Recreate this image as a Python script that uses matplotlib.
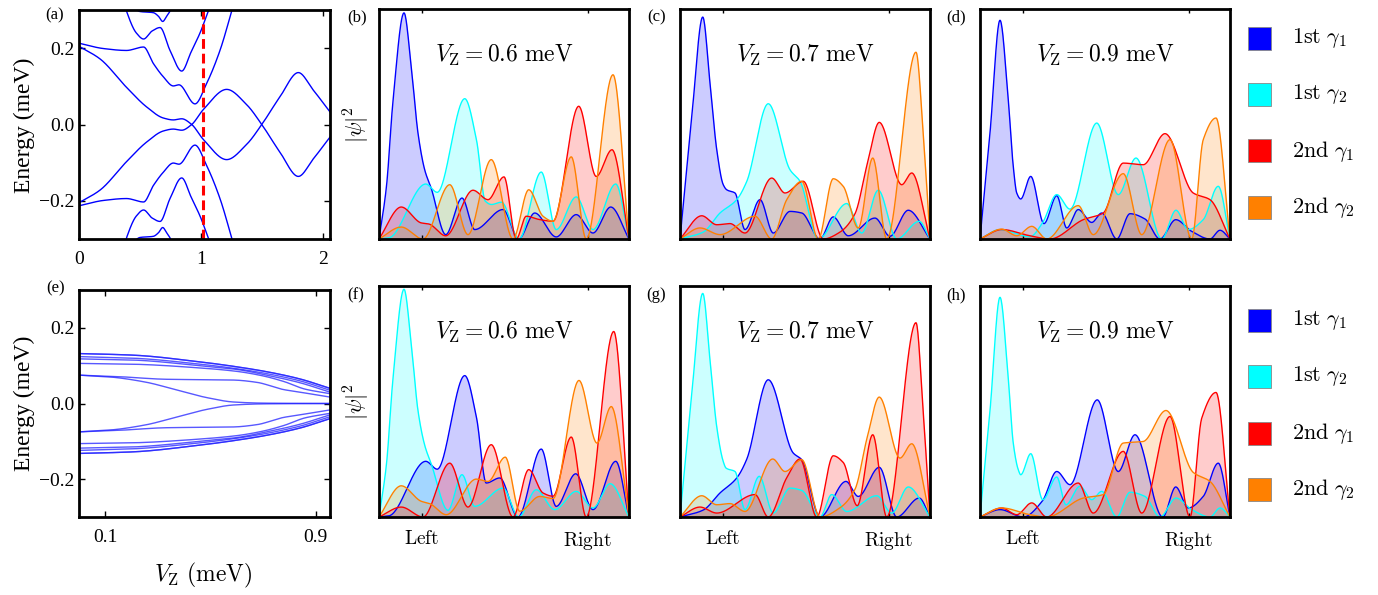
import numpy as np
import matplotlib
matplotlib.use("Agg")
import matplotlib.pyplot as plt
from matplotlib.patches import Rectangle

plt.rcParams['font.family'] = 'serif'
plt.rcParams['font.serif'] = ['Liberation Serif', 'DejaVu Serif']
plt.rcParams['mathtext.fontset'] = 'cm'

# ---- energy spectrum, clean wire (a): positive branches, (V_Z, E) ----
band_a1 = [(0, 0.205), (0.172, 0.172), (0.391, 0.097), (0.555, 0.046), (0.692, 0.017),
           (0.774, 0.012), (0.843, 0.015), (0.925, 0.0), (1.02, -0.039), (1.212, -0.092),
           (1.376, -0.052), (1.5, 0.0), (1.65, 0.073), (1.8, 0.136), (1.923, 0.09), (2.06, 0.033)]
band_a2 = [(0, 0.213), (0.2, 0.199), (0.39, 0.194), (0.53, 0.203), (0.61, 0.16), (0.692, 0.125),
           (0.774, 0.101), (0.82, 0.104), (0.952, 0.054), (1.048, 0.108), (1.157, 0.194),
           (1.253, 0.297), (1.3, 0.35)]
band_a3 = [(0.36, 0.33), (0.39, 0.297), (0.47, 0.24), (0.53, 0.224), (0.6, 0.245), (0.665, 0.254),
           (0.747, 0.194), (0.843, 0.14), (0.92, 0.19), (1.0, 0.245), (1.06, 0.297), (1.1, 0.33)]
band_a4 = [(0.44, 0.31), (0.5, 0.296), (0.61, 0.293), (0.651, 0.284), (0.687, 0.27),
           (0.72, 0.284), (0.747, 0.297), (0.78, 0.32)]
vz_cut = 1.02

# ---- energy spectrum, disordered wire (e): positive branches ----
band_e1 = [(0, 0.132), (0.2, 0.128), (0.46, 0.110), (0.6, 0.097), (0.714, 0.084), (0.84, 0.065), (0.955, 0.040)]
band_e2 = [(0, 0.124), (0.2, 0.120), (0.46, 0.104), (0.6, 0.092), (0.714, 0.079), (0.84, 0.060), (0.955, 0.035)]
band_e3 = [(0, 0.118), (0.2, 0.115), (0.46, 0.100), (0.6, 0.090), (0.714, 0.075), (0.84, 0.055), (0.955, 0.030)]
band_e4 = [(0, 0.106), (0.2, 0.104), (0.46, 0.094), (0.6, 0.085), (0.7, 0.073), (0.78, 0.058), (0.86, 0.038), (0.955, 0.026)]
band_e5 = [(0, 0.075), (0.15, 0.071), (0.333, 0.064), (0.587, 0.062), (0.676, 0.056), (0.777, 0.037), (0.84, 0.030), (0.955, 0.017)]
band_e6 = [(0, 0.075), (0.12, 0.070), (0.25, 0.057), (0.376, 0.035), (0.49, 0.015), (0.587, 0.004), (0.7, 0.001), (0.955, 0.0)]

# ---- |psi|^2 along the wire (position 0..1, relative weight) ----
b_blue = [(0, 0), (0.03, 0.23), (0.056, 0.6), (0.10, 0.983), (0.129, 0.75), (0.156, 0.46), (0.183, 0.30),
          (0.209, 0.22), (0.267, 0.019), (0.332, 0.178), (0.383, 0.041), (0.496, 0.128), (0.559, 0),
          (0.623, 0.113), (0.709, 0.009), (0.789, 0.106), (0.856, 0.026), (0.927, 0.139), (1.0, 0)]
b_cyan = [(0, 0), (0.04, 0.005), (0.187, 0.239), (0.233, 0.203), (0.343, 0.61), (0.39, 0.43),
          (0.425, 0.165), (0.45, 0.15), (0.49, 0.16), (0.56, 0), (0.649, 0.291), (0.709, 0.041),
          (0.789, 0.183), (0.856, 0.041), (0.947, 0.239), (1.0, 0)]
b_red = [(0, 0), (0.089, 0.139), (0.169, 0.07), (0.2, 0.065), (0.267, 0.014), (0.376, 0.212),
         (0.436, 0.171), (0.5, 0.27), (0.549, 0.0), (0.589, 0.099), (0.64, 0.085), (0.696, 0.077),
         (0.799, 0.577), (0.869, 0.272), (0.932, 0.388), (1.0, 0)]
b_orange = [(0, 0), (0.089, 0.052), (0.176, 0.0), (0.283, 0.236), (0.356, 0.019), (0.449, 0.345),
            (0.536, 0.0), (0.599, 0.214), (0.656, 0.099), (0.696, 0.077), (0.769, 0.357), (0.829, 0.0),
            (0.936, 0.714), (1.0, 0)]

c_blue = [(0, 0), (0.047, 0.53), (0.091, 0.965), (0.12, 0.678), (0.147, 0.388), (0.173, 0.236),
          (0.187, 0.214), (0.22, 0.2), (0.26, 0.041), (0.32, 0.171), (0.373, 0.026), (0.44, 0.12),
          (0.487, 0.113), (0.56, 0), (0.613, 0.096), (0.673, 0.014), (0.78, 0.091), (0.84, 0.012),
          (0.913, 0.125), (1.0, 0)]
c_cyan = [(0, 0), (0.093, 0.03), (0.16, 0.113), (0.227, 0.171), (0.267, 0.25), (0.353, 0.588),
          (0.44, 0.301), (0.48, 0.251), (0.553, 0), (0.667, 0.154), (0.727, 0.026), (0.793, 0.212),
          (0.867, 0), (0.957, 0.077), (1.0, 0)]
c_red = [(0, 0), (0.087, 0.101), (0.147, 0.062), (0.2, 0.067), (0.26, 0.026), (0.367, 0.265),
         (0.42, 0.2), (0.493, 0.251), (0.573, 0), (0.64, 0.03), (0.7, 0.11), (0.75, 0.33),
         (0.797, 0.507), (0.887, 0.236), (0.927, 0.287), (1.0, 0)]
c_orange = [(0, 0), (0.08, 0.048), (0.16, 0.019), (0.3, 0.099), (0.367, 0), (0.427, 0.171),
            (0.487, 0.251), (0.553, 0), (0.613, 0.262), (0.653, 0.229), (0.713, 0.048), (0.771, 0.352),
            (0.827, 0), (0.944, 0.812), (0.973, 0.46), (1.0, 0)]

d_blue = [(0, 0), (0.04, 0.461), (0.08, 0.951), (0.113, 0.606), (0.133, 0.316), (0.147, 0.2),
          (0.163, 0.174), (0.203, 0.272), (0.256, 0.067), (0.307, 0.188), (0.347, 0.048), (0.393, 0.128),
          (0.447, 0.072), (0.487, 0.113), (0.547, 0), (0.6, 0.11), (0.66, 0.087), (0.72, 0),
          (0.783, 0.084), (0.847, 0.033), (0.92, 0.0), (0.96, 0.038), (1.0, 0)]
d_cyan = [(0, 0), (0.08, 0.041), (0.2, 0.01), (0.25, 0.07), (0.307, 0.193), (0.36, 0.13),
          (0.467, 0.504), (0.553, 0.193), (0.624, 0.352), (0.727, 0), (0.784, 0.125), (0.833, 0.041),
          (0.893, 0.084), (0.953, 0.229), (1.0, 0)]
d_red = [(0, 0), (0.087, 0.041), (0.2, 0.014), (0.28, 0), (0.413, 0.084), (0.493, 0.113),
         (0.573, 0.33), (0.653, 0.323), (0.74, 0.458), (0.853, 0.2), (0.92, 0.171), (1.0, 0)]
d_orange = [(0, 0), (0.087, 0.043), (0.147, 0.014), (0.207, 0.055), (0.267, 0), (0.393, 0.145),
            (0.453, 0.019), (0.573, 0.284), (0.647, 0.019), (0.76, 0.432), (0.847, 0), (0.893, 0.432),
            (0.944, 0.526), (1.0, 0)]

f_blue = [(0, 0), (0.04, 0.005), (0.187, 0.241), (0.233, 0.207), (0.343, 0.612), (0.39, 0.43),
          (0.429, 0.147), (0.483, 0.169), (0.556, 0), (0.649, 0.294), (0.709, 0.046), (0.787, 0.187),
          (0.856, 0.032), (0.947, 0.241), (1.0, 0)]
f_cyan = [(0, 0), (0.03, 0.23), (0.056, 0.6), (0.1, 0.986), (0.129, 0.75), (0.156, 0.46), (0.183, 0.31),
          (0.209, 0.23), (0.276, 0.029), (0.332, 0.183), (0.383, 0.046), (0.496, 0.125), (0.559, 0),
          (0.629, 0.118), (0.703, 0.032), (0.789, 0.111), (0.856, 0.039), (0.925, 0.144), (1.0, 0)]
f_red = [(0, 0), (0.089, 0.043), (0.176, 0), (0.283, 0.233), (0.356, 0.043), (0.449, 0.313),
         (0.536, 0), (0.599, 0.205), (0.656, 0.104), (0.696, 0.09), (0.769, 0.346), (0.829, 0),
         (0.939, 0.803), (1.0, 0)]
f_orange = [(0, 0), (0.089, 0.135), (0.169, 0.068), (0.203, 0.058), (0.269, 0.01), (0.389, 0.164),
            (0.436, 0.154), (0.505, 0.259), (0.563, 0.025), (0.643, 0.089), (0.696, 0.08), (0.8, 0.591),
            (0.872, 0.32), (0.929, 0.478), (1.0, 0)]

g_blue = [(0, 0), (0.093, 0.03), (0.16, 0.104), (0.227, 0.169), (0.267, 0.25), (0.353, 0.594),
          (0.453, 0.277), (0.487, 0.248), (0.56, 0), (0.664, 0.154), (0.713, 0.089), (0.797, 0.215),
          (0.867, 0), (0.957, 0.082), (1.0, 0)]
g_cyan = [(0, 0), (0.047, 0.53), (0.091, 0.968), (0.12, 0.68), (0.147, 0.39), (0.173, 0.24),
          (0.184, 0.212), (0.22, 0.197), (0.26, 0.032), (0.317, 0.176), (0.373, 0.017), (0.44, 0.125),
          (0.487, 0.115), (0.56, 0), (0.607, 0.097), (0.667, 0.024), (0.787, 0.092), (0.847, 0.017),
          (0.913, 0.13), (1.0, 0)]
g_red = [(0, 0), (0.08, 0.043), (0.147, 0.017), (0.3, 0.097), (0.353, 0), (0.427, 0.17),
         (0.48, 0.251), (0.547, 0), (0.613, 0.265), (0.653, 0.236), (0.709, 0.049), (0.771, 0.356),
         (0.827, 0), (0.944, 0.841), (0.973, 0.45), (1.0, 0)]
g_orange = [(0, 0), (0.087, 0.092), (0.147, 0.053), (0.2, 0.058), (0.26, 0.024), (0.371, 0.251),
            (0.42, 0.197), (0.487, 0.248), (0.56, 0), (0.64, 0.04), (0.7, 0.12), (0.75, 0.35),
            (0.797, 0.519), (0.88, 0.255), (0.927, 0.317), (1.0, 0)]

h_blue = [(0, 0), (0.08, 0.032), (0.173, 0), (0.25, 0.07), (0.307, 0.197), (0.36, 0.14),
          (0.469, 0.507), (0.553, 0.197), (0.62, 0.356), (0.731, 0), (0.783, 0.13), (0.833, 0.039),
          (0.893, 0.089), (0.953, 0.233), (1.0, 0)]
h_cyan = [(0, 0), (0.04, 0.46), (0.08, 0.951), (0.113, 0.6), (0.133, 0.32), (0.153, 0.205),
          (0.163, 0.183), (0.203, 0.274), (0.251, 0.075), (0.307, 0.173), (0.344, 0.053), (0.4, 0.133),
          (0.447, 0.075), (0.487, 0.111), (0.547, 0), (0.6, 0.107), (0.66, 0.089), (0.72, 0),
          (0.784, 0.082), (0.847, 0.032), (0.92, 0), (0.96, 0.039), (1.0, 0)]
h_red = [(0, 0), (0.087, 0.039), (0.147, 0.01), (0.207, 0.061), (0.267, 0), (0.393, 0.147),
         (0.453, 0.017), (0.573, 0.284), (0.647, 0.017), (0.76, 0.435), (0.84, 0), (0.887, 0.428),
         (0.944, 0.539), (1.0, 0)]
h_orange = [(0, 0), (0.087, 0.039), (0.2, 0.01), (0.267, 0), (0.413, 0.082), (0.493, 0.097),
            (0.573, 0.32), (0.653, 0.327), (0.744, 0.461), (0.853, 0.193), (0.92, 0.154), (1.0, 0)]

zeeman = ['0.6', '0.7', '0.9']
state_labels = [r'$1{\rm st}\ \gamma_1$', r'$1{\rm st}\ \gamma_2$',
                r'$2{\rm nd}\ \gamma_1$', r'$2{\rm nd}\ \gamma_2$']
state_colors = ['#0000ff', '#00ffff', '#ff0000', '#ff8000']
site_ticks = [0.17, 0.835]


def smooth(pts, n=600):
    # monotone cubic (Fritsch-Carlson) curve through the key points
    xk = np.array([p[0] for p in pts], float)
    yk = np.array([p[1] for p in pts], float)
    h = np.diff(xk)
    d = np.diff(yk) / h
    m = np.zeros_like(yk)
    m[0], m[-1] = d[0], d[-1]
    for k in range(1, len(xk) - 1):
        if d[k - 1] * d[k] > 0:
            w1 = 2 * h[k] + h[k - 1]
            w2 = h[k] + 2 * h[k - 1]
            m[k] = (w1 + w2) / (w1 / d[k - 1] + w2 / d[k])
    xs = np.linspace(xk[0], xk[-1], n)
    i = np.clip(np.searchsorted(xk, xs) - 1, 0, len(h) - 1)
    t = (xs - xk[i]) / h[i]
    h00 = 2 * t**3 - 3 * t**2 + 1
    h10 = t**3 - 2 * t**2 + t
    h01 = -2 * t**3 + 3 * t**2
    h11 = t**3 - t**2
    ys = h00 * yk[i] + h10 * h[i] * m[i] + h01 * yk[i + 1] + h11 * h[i] * m[i + 1]
    return xs, ys


W, H = 1378, 595
fig = plt.figure(figsize=(W / 100, H / 100), dpi=100)


def add_ax(left, top, right, bottom):
    return fig.add_axes([left / W, 1 - bottom / H, (right - left) / W, (bottom - top) / H])


def frame(ax):
    for s in ax.spines.values():
        s.set_linewidth(2)


def spectrum(ax, bands, color, lw, alpha):
    for pts in bands:
        xs, ys = smooth(pts)
        ax.plot(xs, ys, color=color, lw=lw, alpha=alpha)
        ax.plot(xs, -ys, color=color, lw=lw, alpha=alpha)
    ax.set_ylim(-0.3, 0.3)
    ax.set_yticks([0.2, 0.0, -0.2])
    ax.set_yticklabels(['0.2', '0.0', '\u22120.2'])
    ax.tick_params(direction='in', top=True, right=True, length=4, width=1, labelsize=14)
    ax.tick_params(axis='y', pad=3)
    ax.tick_params(axis='x', pad=9)
    frame(ax)


# (a) clean wire spectrum
ax_a = add_ax(79, 10, 330, 239)
spectrum(ax_a, [band_a1, band_a2, band_a3, band_a4], '#0000ff', 1.0, 1.0)
ax_a.axvline(vz_cut, color='#ff0000', lw=2.2, dashes=(3.2, 1.6))
ax_a.set_xlim(0, 2.06)
ax_a.set_xticks([0, 1, 2])
ax_a.set_xticklabels(['0', '1', '2'])

# (e) disordered wire spectrum
ax_e = add_ax(79, 290, 330, 517)
spectrum(ax_e, [band_e1, band_e1, band_e2, band_e3, band_e4, band_e5, band_e6], '#2020ff', 1.0, 0.75)
ax_e.set_xlim(0, 0.955)
ax_e.set_xticks([0.1, 0.9])
ax_e.set_xticklabels(['0.1', '0.9'])

fig.text(24 / W, 1 - 125 / H, 'Energy (meV)', rotation=90, ha='center', va='center', fontsize=17)
fig.text(24 / W, 1 - 403 / H, 'Energy (meV)', rotation=90, ha='center', va='center', fontsize=17)
fig.text(203 / W, 1 - 575 / H, r'$V_{\rm Z}\ ({\rm meV})$', ha='center', va='center', fontsize=17)


def density(ax, curves, vz, bottom_row):
    for pts, col in zip(curves, state_colors):
        xs, ys = smooth(pts)
        ys = np.clip(ys, 0, None)
        ax.fill_between(xs, 0, ys, color=col, alpha=0.2, lw=0)
        ax.plot(xs, ys, color=col, lw=1.0)
    ax.set_xlim(0, 1)
    ax.set_ylim(0, 1)
    ax.set_yticks([])
    ax.set_xticks(site_ticks)
    ax.tick_params(axis='x', direction='in', top=True, length=3, width=1, pad=9, labelsize=14)
    if bottom_row:
        ax.set_xticklabels([r'$\rm Left$', r'$\rm Right$'])
    else:
        ax.set_xticklabels([])
    ax.text(0.5, 0.8, r'$V_{\rm Z}=%s\ {\rm meV}$' % vz, transform=ax.transAxes,
            ha='center', va='center', fontsize=17)
    frame(ax)


top_sets = [[b_blue, b_cyan, b_red, b_orange],
            [c_blue, c_cyan, c_red, c_orange],
            [d_blue, d_cyan, d_red, d_orange]]
bottom_sets = [[f_blue, f_cyan, f_red, f_orange],
               [g_blue, g_cyan, g_red, g_orange],
               [h_blue, h_cyan, h_red, h_orange]]
lefts = [379, 680, 980]
for j in range(3):
    ax_t = add_ax(lefts[j], 9, lefts[j] + 250, 239)
    density(ax_t, top_sets[j], zeeman[j], False)
    ax_b = add_ax(lefts[j], 286, lefts[j] + 250, 517)
    density(ax_b, bottom_sets[j], zeeman[j], True)

for yc in [125, 402]:
    fig.text(357 / W, 1 - yc / H, r'$|\psi|^2$', rotation=90, ha='center', va='center', fontsize=16)

# panel tags
tags = [('(a)', 55, 15), ('(b)', 357, 17), ('(c)', 657, 17), ('(d)', 956, 17),
        ('(e)', 56, 288), ('(f)', 356, 295), ('(g)', 656, 295), ('(h)', 956, 295)]
for t, x, y in tags:
    fig.text(x / W, 1 - y / H, t, ha='center', va='center', fontsize=12)

# colour keys on the right
for y0 in [38, 320]:
    for k in range(4):
        yc = y0 + k * 56.5
        fig.add_artist(Rectangle(((1248) / W, 1 - (yc + 11.5) / H), 23 / W, 23 / H,
                                 transform=fig.transFigure, facecolor=state_colors[k],
                                 edgecolor='#888888', lw=0.6))
        fig.text(1292 / W, 1 - yc / H, state_labels[k], ha='left', va='center', fontsize=16)

fig.savefig('out.png', dpi=100)
